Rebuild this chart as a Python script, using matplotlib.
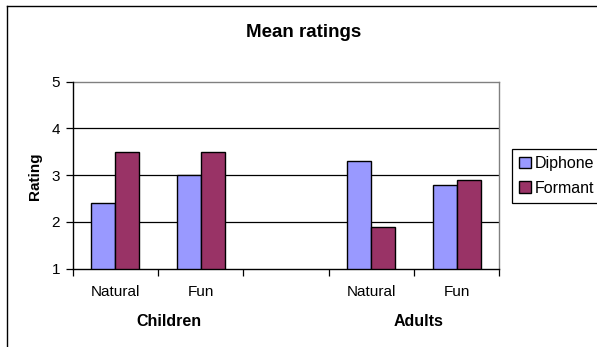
import matplotlib
matplotlib.use("Agg")
import matplotlib.pyplot as plt
import matplotlib.transforms as mtransforms
from matplotlib.lines import Line2D
import numpy as np

plt.rcParams['font.family'] = ['Liberation Sans', 'DejaVu Sans']

# data
conditions = ["Natural", "Fun", "Natural", "Fun"]
groups = ["Children", "Adults"]
slots = [0, 1, 3, 4]          # slot 2 is left empty between the groups
diphone = [2.4, 3.0, 3.3, 2.8]
formant = [3.5, 3.5, 1.9, 2.9]
yticks = [1, 2, 3, 4, 5]

col_diphone = "#9999FF"
col_formant = "#993366"

W, H = 597, 347
fig = plt.figure(figsize=(W / 100, H / 100), dpi=100)

# chart frame (only left and top edges visible in the crop)
fig.add_artist(Line2D([7 / W, 7 / W], [0, 1 - 6 / H], color="black", lw=1.0))
fig.add_artist(Line2D([7 / W, 1], [1 - 6 / H, 1 - 6 / H], color="black", lw=1.0))

ax = fig.add_axes([72.7 / W, 1 - 268.7 / H, 426.6 / W, 187 / H])

bw = 0.281
x = np.array(slots, dtype=float)
ax.bar(x - bw / 2, diphone, bw, bottom=0, color=col_diphone, edgecolor="black",
       linewidth=1.0, label="Diphone", zorder=3)
ax.bar(x + bw / 2, formant, bw, bottom=0, color=col_formant, edgecolor="black",
       linewidth=1.0, label="Formant", zorder=3)

ax.set_xlim(-0.5, 4.5)
ax.set_ylim(yticks[0], yticks[-1])

# gridlines between the bottom and top
for v in yticks[1:-1]:
    ax.axhline(v, color="black", lw=0.9, zorder=1)

ax.set_yticks(yticks)
ax.tick_params(axis="y", direction="out", length=5, width=0.9, pad=4, labelsize=11)

# category boundaries as major ticks, names as minor tick labels
ax.set_xticks(np.arange(-0.5, 5.0, 1.0))
ax.set_xticklabels([])
ax.set_xticks(slots, minor=True)
ax.set_xticklabels(conditions, minor=True)
ax.tick_params(axis="x", which="major", direction="out", length=5, width=0.9)
ax.tick_params(axis="x", which="minor", length=0, pad=12, labelsize=11)

for s in ["left", "bottom"]:
    ax.spines[s].set_color("black")
    ax.spines[s].set_linewidth(1.0)
for s in ["top", "right"]:
    ax.spines[s].set_color("#808080")
    ax.spines[s].set_linewidth(1.0)
ax.spines["left"].set_zorder(4)
ax.spines["bottom"].set_zorder(4)

# group labels under the category names
trans = mtransforms.blended_transform_factory(ax.transData, ax.transAxes)
group_x = [0.63, 3.55]
for gx, name in zip(group_x, groups):
    ax.text(gx, -0.283, name, transform=trans, ha="center", va="center",
            fontsize=11.5, fontweight="bold")

ax.text(-0.0877, 0.492, "Rating", transform=ax.transAxes, rotation=90,
        ha="center", va="center", fontsize=11, fontweight="bold")

fig.text(304 / W, 1 - 32.5 / H, "Mean ratings", ha="center", va="center",
         fontsize=13.5, fontweight="bold")

leg = fig.legend(loc="upper left", bbox_to_anchor=(512 / W, 1 - 149 / H),
                 fontsize=11.5, frameon=True, fancybox=False, framealpha=1,
                 edgecolor="black", handlelength=0.75, handleheight=0.75,
                 handletextpad=0.2, borderpad=0.45, labelspacing=0.6,
                 borderaxespad=0)
leg.get_frame().set_linewidth(0.9)

fig.savefig("out.png", dpi=100)
